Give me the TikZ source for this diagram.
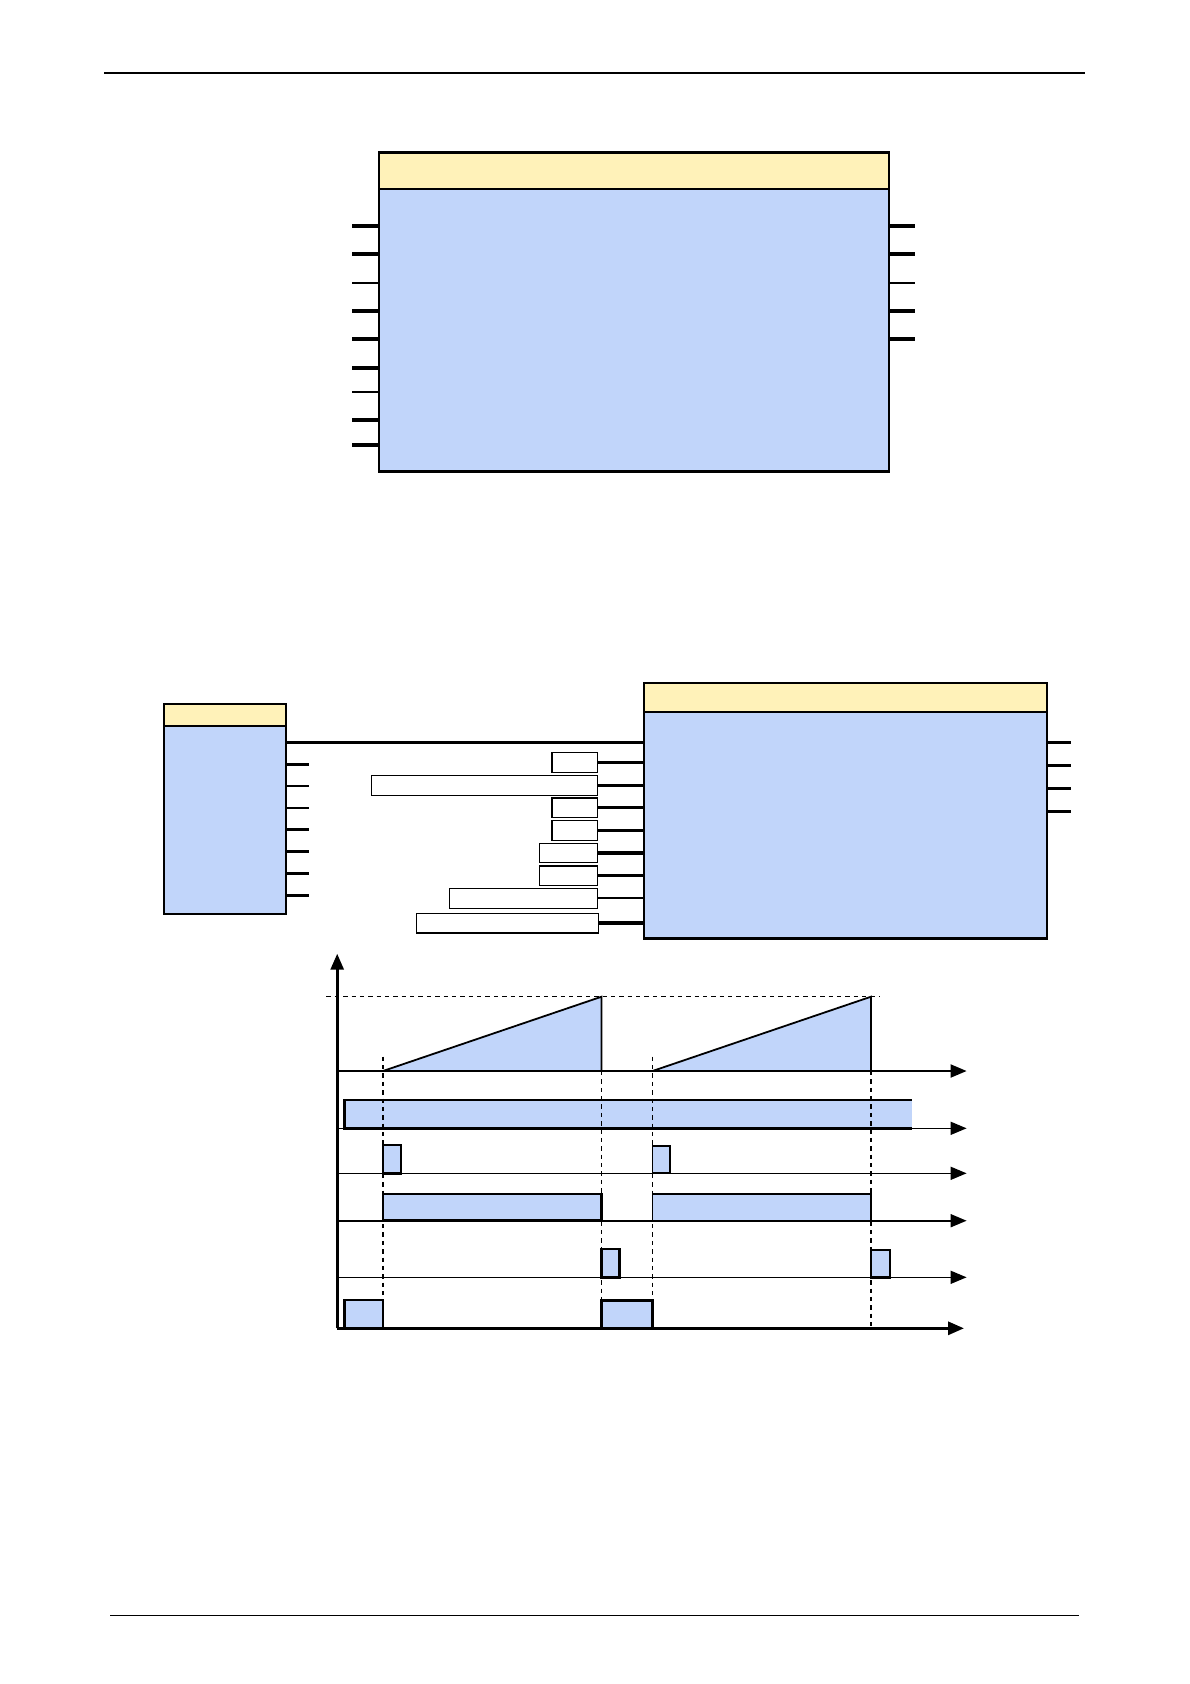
\documentclass[tikz,border=0pt]{standalone}
\usetikzlibrary{arrows.meta}
\definecolor{boxblue}{RGB}{193,213,250}
\definecolor{hdryellow}{RGB}{255,242,185}
\begin{document}
\begin{tikzpicture}[x=0.5bp,y=-0.5bp,
  blkbody/.style={draw, fill=boxblue, line width=1.1pt, inner sep=0, outer sep=0, anchor=north west},
  blkhead/.style={draw, fill=hdryellow, line width=1.1pt, inner sep=0, outer sep=0, anchor=north west},
  thk/.style={line width=1.7pt},
  thn/.style={line width=1.0pt},
  wbox/.style={draw, fill=white, line width=0.8pt, inner sep=0, outer sep=0, anchor=north east},
  sigbox/.style={draw, fill=boxblue, line width=1.4pt},
  sigthin/.style={draw, fill=boxblue, line width=0.9pt},
  axarr/.style={-{Triangle[length=8bp,width=6.5bp]}},
  dsh/.style={dashed, line width=0.75pt, dash pattern=on 2.2pt off 2pt}]
\useasboundingbox (0,0) rectangle (1190,1684);

% page rules
\coordinate (tl) at (104,73);  \coordinate (tr) at (1085,73);
\coordinate (bl) at (110,1615); \coordinate (br) at (1079,1615);
\draw[line width=1.4pt] (tl) -- (tr);
\draw[line width=0.5pt] (bl) -- (br);

% ---------- block 1 ----------
\node[blkhead, minimum width=255bp, minimum height=18.25bp] (h1) at (379,152.5) {};
\node[blkbody, minimum width=255bp, minimum height=141.25bp] (b1) at (379,189) {};
\foreach \yy/\st in {226/thk,254/thk,283/thn,311/thk,339/thk,368/thk,392/thn,420/thk,445/thk}
  \draw[\st] (379,\yy) -- (352,\yy);
\foreach \yy/\st in {226/thk,254/thk,283/thn,311/thk,339/thk}
  \draw[\st] (889,\yy) -- (915,\yy);

% ---------- block 2 (small) ----------
\node[blkhead, minimum width=61bp, minimum height=11bp] (sh) at (164,704) {};
\node[blkbody, minimum width=61bp, minimum height=93.85bp] (sb) at (164,726) {};
\foreach \yy/\st in {764.3/thk,786/thn,807.7/thn,829.3/thk,851.3/thk,873.3/thk,895.3/thk}
  \draw[\st] (286,\yy) -- (309,\yy);

% ---------- block 3 (big) ----------
\node[blkhead, minimum width=201.5bp, minimum height=14.5bp] (bh) at (644,683) {};
\node[blkbody, minimum width=201.5bp, minimum height=113.25bp] (bb) at (644,712) {};
\foreach \yy in {742.3,765.3,788.3,811.3}
  \draw[thk] (1047,\yy) -- (1071,\yy);

% bus
\coordinate (busy) at (0,742.3);
\draw[line width=1.7pt] (sb.east |- busy) -- (bb.west |- busy);

% white parameter boxes
\node[wbox, minimum width=22.8bp, minimum height=10bp] (w1) at (597.3,752.3) {};
\node[wbox, minimum width=113bp,  minimum height=10bp] (w2) at (597.3,775.3) {};
\node[wbox, minimum width=22.8bp, minimum height=9.65bp] (w3) at (597.3,798) {};
\node[wbox, minimum width=22.8bp, minimum height=10bp] (w4) at (597.3,820.3) {};
\node[wbox, minimum width=29bp,   minimum height=9.5bp] (w5) at (597.3,843.3) {};
\node[wbox, minimum width=29bp,   minimum height=9.8bp] (w6) at (597.3,865.7) {};
\node[wbox, minimum width=74bp,   minimum height=10bp] (w7) at (597.3,888.3) {};
\node[wbox, minimum width=91bp,   minimum height=9.85bp] (w8) at (598.3,913.3) {};
\foreach \n/\st in {w1/thk,w2/thk,w3/thk,w4/thk,w5/thk,w6/thk,w7/thn,w8/thk}
  \draw[\st] (\n.east) -- (\n.east -| bb.west);

% ---------- timing chart ----------
% fills
\fill[boxblue] (344.6,1100) rectangle (911.5,1128.3);
\filldraw[fill=boxblue, line width=0.9pt] (383,1071) -- (601.5,996.7) -- (601.5,1071) -- cycle;
\filldraw[fill=boxblue, line width=0.9pt] (652.5,1071) -- (871,996.7) -- (871,1071) -- cycle;
\draw[line width=1.4pt] (911.5,1100) -- (344.6,1100) -- (344.6,1128.3) -- (911.5,1128.3);
\filldraw[sigbox] (383,1173.3) rectangle (400.9,1145);
\filldraw[sigthin] (652.5,1173.3) rectangle (669.7,1146);
\filldraw[sigbox] (383,1220.7) rectangle (601.5,1194);
\filldraw[sigthin] (652.5,1220.7) rectangle (871,1194);
\filldraw[sigbox] (601.5,1277.3) rectangle (619.8,1249);
\filldraw[sigbox] (871,1277.3) rectangle (889.9,1250);
\filldraw[sigbox] (344.6,1328.3) rectangle (383,1300);
\filldraw[sigbox] (601.5,1328.3) rectangle (652.5,1300.7);

% dashed guides
\draw[dsh] (326.4,996.7) -- (879,996.7);
\draw[dsh] (383,1056.7) -- (383,1328.3);
\draw[dsh] (601.5,1071) -- (601.5,1328.3);
\draw[dsh] (652.5,1056.7) -- (652.5,1328.3);
\draw[dsh] (871,1071) -- (871,1328.3);

% axes
\coordinate (o) at (337.2,1328.3);
\draw[line width=1.4pt, axarr] (o) -- (337.2,953.7);
\foreach \yy/\w in {1071/1.0pt,1128.3/0.8pt,1173.3/0.8pt,1220.7/0.9pt,1277.3/0.8pt}
  \draw[line width=\w, axarr] (337.2,\yy) -- (966.6,\yy);
\draw[line width=1.5pt, axarr] (o) -- (964,1328.3);
\end{tikzpicture}
\end{document}
